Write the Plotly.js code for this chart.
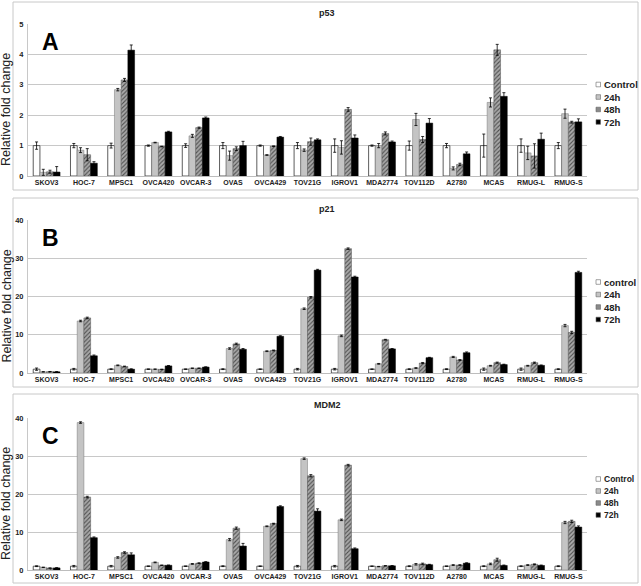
<!DOCTYPE html>
<html>
<head>
<meta charset="utf-8">
<script src="https://cdn.plot.ly/plotly-3.0.1.min.js"></script>
<style>html,body{margin:0;padding:0;background:#fff;} #chart{width:641px;height:586px;}</style>
</head>
<body>
<div id="chart"></div>
<script>
// ---------- data ----------
const categories = ["SKOV3","HOC-7","MPSC1","OVCA420","OVCAR-3","OVAS","OVCA429","TOV21G","IGROV1","MDA2774","TOV112D","A2780","MCAS","RMUG-L","RMUG-S"];
const seriesNames = ["Control","24h","48h","72h"];
const legendLabelsA = ["Control","24h","48h","72h"];
const legendLabelsB = ["control","24h","48h","72h"];
const legendLabelsC = ["Control","24h","48h","72h"];
const panelTitles = ["p53","p21","MDM2"];
const panelLetters = ["A","B","C"];
const yTitle = "Relative fold change";

// p53 (panel A)
const p53_control = [1,1,1,1,1,1,1,1,1,1,1,1,1,1,1];
const p53_24h     = [0.12,0.85,2.84,1.10,1.32,0.67,0.69,0.85,0.94,1.00,1.86,0.25,2.42,0.76,2.05];
const p53_48h     = [0.14,0.70,3.16,0.97,1.59,0.90,0.98,1.13,2.19,1.40,1.20,0.38,4.15,0.66,1.77];
const p53_72h     = [0.13,0.42,4.14,1.45,1.91,1.00,1.28,1.19,1.25,1.12,1.74,0.73,2.62,1.21,1.78];
const p53_err_control = [0.12,0.07,0.08,0.02,0.06,0.10,0.02,0.10,0.22,0.02,0.15,0.07,0.38,0.22,0.10];
const p53_err_24h     = [0.10,0.08,0.04,0.01,0.05,0.15,0.01,0.04,0.22,0.07,0.20,0.05,0.15,0.22,0.15];
const p53_err_48h     = [0.05,0.20,0.05,0.01,0.02,0.06,0.01,0.12,0.06,0.05,0.10,0.04,0.18,0.40,0.03];
const p53_err_72h     = [0.18,0.05,0.17,0.02,0.03,0.14,0.02,0.03,0.10,0.03,0.15,0.06,0.12,0.20,0.10];

// p21 (panel B)
const p21_control = [1,1,1,1,1,1,1,1,1,1,1,1,1,1,1];
const p21_24h     = [0.30,13.6,2.0,1.0,1.25,6.4,5.7,16.8,9.7,2.4,1.3,4.2,1.9,1.9,12.4];
const p21_48h     = [0.35,14.4,1.7,0.95,1.25,7.6,5.9,19.8,32.5,8.7,2.6,3.4,2.7,2.7,10.6];
const p21_72h     = [0.30,4.5,1.0,1.85,1.55,6.2,9.6,26.9,25.1,6.3,4.0,5.3,2.2,2.0,26.3];
const p21_err_control = [0.3,0.2,0.1,0.05,0.05,0.1,0.05,0.2,0.2,0.05,0.1,0.1,0.3,0.3,0.1];
const p21_err_24h     = [0.05,0.2,0.1,0.05,0.05,0.2,0.1,0.2,0.2,0.1,0.1,0.15,0.1,0.1,0.3];
const p21_err_48h     = [0.05,0.2,0.1,0.05,0.05,0.2,0.1,0.2,0.2,0.1,0.15,0.1,0.15,0.15,0.3];
const p21_err_72h     = [0.05,0.2,0.1,0.1,0.05,0.2,0.15,0.2,0.2,0.1,0.1,0.2,0.1,0.1,0.3];

// MDM2 (panel C)
const mdm2_control = [1,1,1,1,1,1,1,1,1,1,1,1,1,1,1];
const mdm2_24h     = [0.7,38.8,3.3,2.0,1.6,8.0,11.5,29.3,13.2,0.9,1.5,1.3,1.6,1.3,12.5];
const mdm2_48h     = [0.5,19.2,4.6,1.25,1.8,11.0,12.2,24.8,27.6,1.1,1.6,1.3,2.7,1.5,12.8];
const mdm2_72h     = [0.55,8.5,4.0,1.25,2.1,6.3,16.7,15.5,5.6,1.1,1.4,1.8,1.2,1.2,11.3];
const mdm2_err_control = [0.1,0.2,0.2,0.05,0.05,0.1,0.05,0.2,0.2,0.05,0.1,0.05,0.1,0.1,0.1];
const mdm2_err_24h     = [0.05,0.2,0.2,0.1,0.1,0.3,0.1,0.2,0.2,0.05,0.2,0.1,0.2,0.1,0.3];
const mdm2_err_48h     = [0.05,0.2,0.2,0.05,0.1,0.3,0.1,0.3,0.2,0.05,0.2,0.1,0.4,0.1,0.3];
const mdm2_err_72h     = [0.05,0.2,0.5,0.05,0.1,0.7,0.2,0.6,0.2,0.05,0.1,0.1,0.1,0.1,0.3];

// ---------- styles ----------
const W = 641, H = 586;
const px = x => x / W;
const py = y => 1 - y / H;
const FONT = "Liberation Sans, Arial, sans-serif";

const styles = [
  {color:"#ffffff", line:{color:"#333333", width:0.8}},
  {color:"#c4c4c4", line:{color:"#777777", width:0.5}},
  {color:"#8c8c8c", line:{color:"#555555", width:0.5},
   pattern:{shape:"/", bgcolor:"#a8a8a8", fgcolor:"#505050", size:3, solidity:0.35}},
  {color:"#000000", line:{color:"#000000", width:0.5}}
];
const swatch = ["#ffffff","#c4c4c4","#8a8a8a","#000000"];

const panels = [
  {vals:[p53_control,p53_24h,p53_48h,p53_72h], errs:[p53_err_control,p53_err_24h,p53_err_48h,p53_err_72h],
   plotTop:24, plotBot:176, range:[0,5], dtick:1, box:[2,190], legend:legendLabelsA, legendY:[84.5,97,109.5,122], legendFs:9.5},
  {vals:[p21_control,p21_24h,p21_48h,p21_72h], errs:[p21_err_control,p21_err_24h,p21_err_48h,p21_err_72h],
   plotTop:220, plotBot:373, range:[0,40], dtick:10, box:[198,387], legend:legendLabelsB, legendY:[282,294.5,307,319.5], legendFs:9.5},
  {vals:[mdm2_control,mdm2_24h,mdm2_48h,mdm2_72h], errs:[mdm2_err_control,mdm2_err_24h,mdm2_err_48h,mdm2_err_72h],
   plotTop:418, plotBot:570, range:[0,40], dtick:10, box:[394,583], legend:legendLabelsC, legendY:[479,491,503,515], legendFs:8.5}
];

const traces = [];
const layout = {
  width: W, height: H,
  margin:{l:0,r:0,t:0,b:0},
  paper_bgcolor:"#ffffff", plot_bgcolor:"#ffffff",
  barmode:"group", bargap:0.28, bargroupgap:0,
  showlegend:false,
  font:{family:FONT, color:"#222"},
  shapes:[], annotations:[]
};

panels.forEach((p, i) => {
  const xa = i === 0 ? "x" : "x" + (i+1);
  const ya = i === 0 ? "y" : "y" + (i+1);
  const xk = i === 0 ? "xaxis" : "xaxis" + (i+1);
  const yk = i === 0 ? "yaxis" : "yaxis" + (i+1);
  p.vals.forEach((v, s) => {
    traces.push({
      type:"bar", name:seriesNames[s], x:categories, y:v,
      xaxis:xa, yaxis:ya,
      marker:styles[s],
      error_y:{type:"data", array:p.errs[s], visible:true, color:"#000", thickness:0.8, width:1.5},
      hoverinfo:"x+y+name"
    });
  });
  layout[xk] = {
    domain:[px(28), px(587)], anchor:ya, type:"category",
    showline:true, linecolor:"#bdbdbd", linewidth:1,
    ticks:"", tickfont:{family:FONT, size:7, color:"#222", weight:"bold"},
    tickangle:0, showgrid:false, fixedrange:true
  };
  layout[yk] = {
    domain:[py(p.plotBot), py(p.plotTop)], anchor:xa,
    range:p.range, dtick:p.dtick, tick0:0,
    showline:true, linecolor:"#c8c8c8", linewidth:1,
    showgrid:true, gridcolor:"#c8c8c8", gridwidth:1,
    zeroline:false, ticks:"", ticklabelstandoff:2,
    tickfont:{family:FONT, size:7.5, color:"#222", weight:"bold"}, fixedrange:true
  };
  // panel frame
  layout.shapes.push({type:"rect", xref:"paper", yref:"paper",
    x0:px(13), x1:px(638), y0:py(p.box[1]), y1:py(p.box[0]),
    line:{color:"#c8c8c8", width:1}, fillcolor:"rgba(0,0,0,0)", layer:"below"});
  // panel title
  layout.annotations.push({xref:"paper", yref:"paper", x:px(327), y:py(p.box[0]+11),
    text:"<b>"+panelTitles[i]+"</b>", showarrow:false, xanchor:"center", yanchor:"middle",
    font:{family:FONT, size:9, color:"#222"}});
  // panel letter
  layout.annotations.push({xref:"paper", yref:"paper", x:px(40), y:py(p.plotTop+18),
    text:"<b>"+panelLetters[i]+"</b>", showarrow:false, xanchor:"left", yanchor:"middle",
    font:{family:FONT, size:23, color:"#000"}});
  // y title
  layout.annotations.push({xref:"paper", yref:"paper", x:px(6), y:py((p.plotTop+p.plotBot)/2+10),
    text:yTitle, textangle:-90, showarrow:false, xanchor:"center", yanchor:"middle",
    font:{family:FONT, size:12.5, color:"#222"}});
  // legend
  p.legend.forEach((lab, s) => {
    const yy = p.legendY[s];
    layout.shapes.push({type:"rect", xref:"paper", yref:"paper",
      x0:px(596), x1:px(600.5), y0:py(yy+2.3), y1:py(yy-2.3),
      fillcolor:swatch[s], line:{color:"#666", width:0.6}});
    layout.annotations.push({xref:"paper", yref:"paper", x:px(601.5), y:py(yy),
      text:"<b>"+lab+"</b>", showarrow:false, xanchor:"left", yanchor:"middle",
      font:{family:FONT, size:p.legendFs, color:"#222"}});
  });
});

Plotly.newPlot("chart", traces, layout, {displayModeBar:false, staticPlot:true});
</script>
</body>
</html>
